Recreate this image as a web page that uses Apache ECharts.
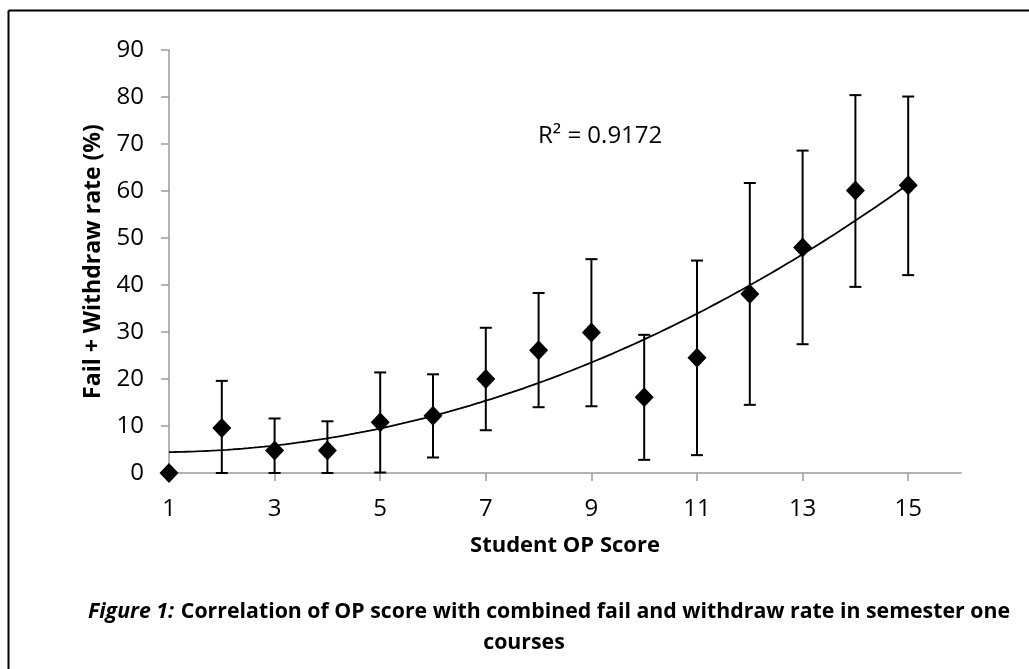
<!DOCTYPE html>
<html>
<head>
<meta charset="utf-8">
<script src="https://cdn.jsdelivr.net/npm/echarts@6/dist/echarts.min.js"></script>
<style>
html,body{margin:0;padding:0;background:#fff;}
#chart{width:1029px;height:669px;}
</style>
</head>
<body>
<div id="chart"></div>
<script>
// ---- data ----
var opScores = [1,2,3,4,5,6,7,8,9,10,11,12,13,14,15];
var failWithdrawRate = [0,9.6,4.8,4.8,10.8,12.2,20.0,26.1,29.9,16.1,24.5,38.1,48.0,60.1,61.2];
var errorLow  = [0,0,0,0,0.1,3.3,9.1,14.0,14.2,2.8,3.8,14.5,27.4,39.6,42.1];
var errorHigh = [0,19.6,11.6,11.0,21.4,21.0,30.9,38.3,45.5,29.4,45.2,61.7,68.6,80.4,80.1];
var xTickValues = [1,3,5,7,9,11,13,15];
var rSquaredText = 'R² = 0.9172';
var xAxisTitle = 'Student OP Score';
var yAxisTitle = 'Fail + Withdraw rate (%)';
var captionItalic = 'Figure 1:';
var captionLine1 = 'Correlation of OP score with combined fail and withdraw rate in semester one';
var captionLine2 = 'courses';

// ---- polynomial (order 2) least-squares trendline, as Excel computes it ----
function quadFit(xs, ys){
  var n = xs.length, S = [0,0,0,0,0], T = [0,0,0];
  for (var i=0;i<n;i++){
    var x=xs[i], y=ys[i], p=1;
    for (var k=0;k<5;k++){ S[k]+=p; if(k<3) T[k]+=p*y; p*=x; }
  }
  var M = [[S[0],S[1],S[2],T[0]],[S[1],S[2],S[3],T[1]],[S[2],S[3],S[4],T[2]]];
  for (var c=0;c<3;c++){
    for (var r=c+1;r<3;r++){
      var f=M[r][c]/M[c][c];
      for (var k2=c;k2<4;k2++) M[r][k2]-=f*M[c][k2];
    }
  }
  var coef=[0,0,0];
  for (var r2=2;r2>=0;r2--){
    var s=M[r2][3];
    for (var k3=r2+1;k3<3;k3++) s-=M[r2][k3]*coef[k3];
    coef[r2]=s/M[r2][r2];
  }
  return coef; // c0 + c1 x + c2 x^2
}
var coef = quadFit(opScores, failWithdrawRate);
var trend = [];
var xStart = opScores[0], xEnd = opScores[opScores.length-1];
for (var i=0;i<=140;i++){
  var x = xStart + (xEnd-xStart)*i/140;
  trend.push([x, coef[0]+coef[1]*x+coef[2]*x*x]);
}

var points = opScores.map(function(x,i){ return [x, failWithdrawRate[i]]; });
var bars = opScores.map(function(x,i){ return [x, errorLow[i], errorHigh[i]]; });

var FONT = 'Open Sans';
var chart = echarts.init(document.getElementById('chart'), null, {renderer:'canvas'});
chart.setOption({
  animation:false,
  backgroundColor:'#fff',
  grid:{left:169, right:68, top:50, bottom:196},
  xAxis:{
    type:'value', min:1, max:16,
    name:xAxisTitle, nameLocation:'middle', nameGap:62,
    nameTextStyle:{fontFamily:FONT, fontWeight:'bold', fontSize:22, color:'#000'},
    axisLine:{lineStyle:{color:'#9a9a9a', width:1.5}},
    axisTick:{show:true, length:8, customValues:xTickValues, lineStyle:{color:'#9a9a9a', width:1.5}},
    axisLabel:{customValues:xTickValues, margin:24, fontFamily:FONT, fontSize:24, color:'#000'},
    splitLine:{show:false}
  },
  yAxis:{
    type:'value', min:0, max:90, interval:10,
    name:yAxisTitle, nameLocation:'middle', nameGap:64, nameRotate:90,
    nameTextStyle:{fontFamily:FONT, fontWeight:'bold', fontSize:23, color:'#000'},
    axisLine:{show:true, lineStyle:{color:'#9a9a9a', width:1.5}},
    axisTick:{show:true, length:8, lineStyle:{color:'#9a9a9a', width:1.5}},
    axisLabel:{margin:25, fontFamily:FONT, fontSize:24, color:'#000'},
    splitLine:{show:false}
  },
  series:[
    {
      type:'custom', name:'error', data:bars, z:2,
      encode:{x:0, y:[1,2]},
      renderItem:function(params, api){
        var x = api.value(0);
        var lo = api.coord([x, api.value(1)]);
        var hi = api.coord([x, api.value(2)]);
        var hw = 6;
        var st = {stroke:'#000', lineWidth:2};
        return {type:'group', children:[
          {type:'line', shape:{x1:lo[0], y1:lo[1], x2:hi[0], y2:hi[1]}, style:st},
          {type:'line', shape:{x1:lo[0]-hw, y1:lo[1], x2:lo[0]+hw, y2:lo[1]}, style:st},
          {type:'line', shape:{x1:hi[0]-hw, y1:hi[1], x2:hi[0]+hw, y2:hi[1]}, style:st}
        ]};
      }
    },
    {
      type:'line', name:'trend', data:trend, showSymbol:false, z:3,
      lineStyle:{color:'#000', width:1.8}, silent:true
    },
    {
      type:'scatter', name:'rate', data:points, z:4,
      symbol:'diamond', symbolSize:[19,20],
      itemStyle:{color:'#000', opacity:1}
    }
  ],
  graphic:[
    {type:'line', shape:{x1:8.5, y1:10.5, x2:1029, y2:10.5}, style:{stroke:'#000', lineWidth:2}},
    {type:'line', shape:{x1:8.5, y1:10.5, x2:8.5, y2:669}, style:{stroke:'#000', lineWidth:2}},
    {type:'text', left:538, top:124, style:{text:rSquaredText, font:'24px "Open Sans"', fill:'#000'}},
    {type:'text', x:549, y:612, style:{
      text:'{i|'+captionItalic+'}  {b|'+captionLine1+'}',
      align:'center', verticalAlign:'middle',
      rich:{
        i:{fontFamily:FONT, fontSize:21.3, fontWeight:'bold', fontStyle:'italic', fill:'#000'},
        b:{fontFamily:FONT, fontSize:21.3, fontWeight:'bold', fill:'#000'}
      }
    }},
    {type:'text', x:524, y:643, style:{
      text:captionLine2, align:'center', verticalAlign:'middle',
      font:'bold 21.3px "Open Sans"', fill:'#000'
    }}
  ]
});
</script>
</body>
</html>
